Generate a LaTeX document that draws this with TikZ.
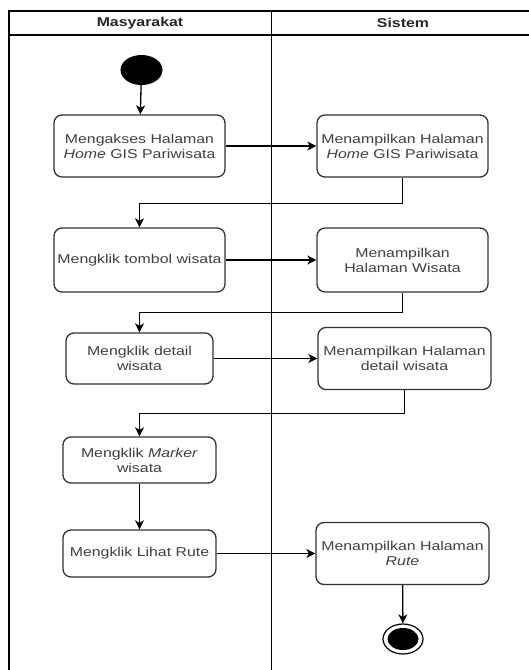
\documentclass[tikz,border=0pt]{standalone}
\usepackage{fontspec}
\setmainfont{Liberation Sans}[FakeStretch=1.24]
\usetikzlibrary{arrows.meta,shapes.geometric}
\definecolor{txtgray}{HTML}{404040}
\definecolor{boxline}{HTML}{333333}
\tikzset{
  act/.style={draw=boxline, line width=1.3pt, rounded corners=8pt, fill=white,
    text=txtgray, align=center, inner sep=2pt,
    font=\fontsize{12.8}{15}\selectfont},
  flow/.style={draw=black, line width=1.3pt,
    -{Stealth[length=9pt,width=9pt,inset=2.5pt]}},
  lane/.style={draw=black, line width=1.6pt},
  lanehead/.style={font=\bfseries\fontsize{12.8}{15}\selectfont, text=black!85}
}
\begin{document}
\begin{tikzpicture}[x=1pt,y=-1pt]
  \useasboundingbox (0,0) rectangle (529,670);
  % swimlanes
  \draw[lane] (9,670) -- (9,11) -- (529,11);
  \draw[lane] (9,35) -- (529,35);
  \draw[lane] (271.5,11) -- (271.5,670);
  \node[lanehead] (hMas) at (140,23) {Masyarakat};
  \node[lanehead] (hSis) at (403,23) {Sistem};

  % start / end
  \node[draw=none, fill=black, ellipse, minimum width=42pt, minimum height=30pt, inner sep=0pt] (start) at (141.5,70) {};
  \node[draw=black, line width=1.2pt, fill=white, ellipse, minimum width=40pt, minimum height=30pt, inner sep=0pt] (stop) at (403,639) {};
  \node[fill=black, ellipse, minimum width=31pt, minimum height=22pt, inner sep=0pt] (stopin) at (403,639) {};

  % activities
  \node[act, minimum width=171pt, minimum height=62pt] (a1) at (139.5,146) {Mengakses Halaman\\\textit{Home} GIS Pariwisata};
  \node[act, minimum width=171pt, minimum height=62pt] (s1) at (402.5,146) {Menampilkan Halaman\\\textit{Home} GIS Pariwisata};
  \node[act, minimum width=171pt, minimum height=64pt] (a2) at (139.5,260) {Mengklik tombol wisata};
  \node[act, minimum width=171pt, minimum height=64pt] (s2) at (402.5,260) {Menampilkan\\Halaman Wisata};
  \node[act, minimum width=147pt, minimum height=51pt] (a3) at (139.5,358.5) {Mengklik detail\\wisata};
  \node[act, minimum width=173pt, minimum height=62pt] (s3) at (404.5,358.5) {Menampilkan Halaman\\detail wisata};
  \node[act, minimum width=153pt, minimum height=46pt] (a4) at (139.5,460) {Mengklik \textit{Marker}\\wisata};
  \node[act, minimum width=153pt, minimum height=47pt] (a5) at (139.5,553.5) {Mengklik Lihat Rute};
  \node[act, minimum width=173pt, minimum height=62pt] (s5) at (402.5,553.5) {Menampilkan Halaman\\\textit{Rute}};

  % control flow
  \draw[flow] (start) -- (a1);
  \draw[flow] (a1) -- (s1);
  \draw[flow] (s1.south) -- ++(0,26) -| (a2.north);
  \draw[flow] (a2) -- (s2);
  \draw[flow] (s2.south) -- ++(0,20) -| (a3.north);
  \draw[flow] (a3) -- (s3);
  \draw[flow] (s3.south) -- ++(0,23) -| (a4.north);
  \draw[flow] (a4) -- (a5);
  \draw[flow] (a5) -- (s5);
  \draw[flow] (s5) -- (stop);
\end{tikzpicture}
\end{document}
